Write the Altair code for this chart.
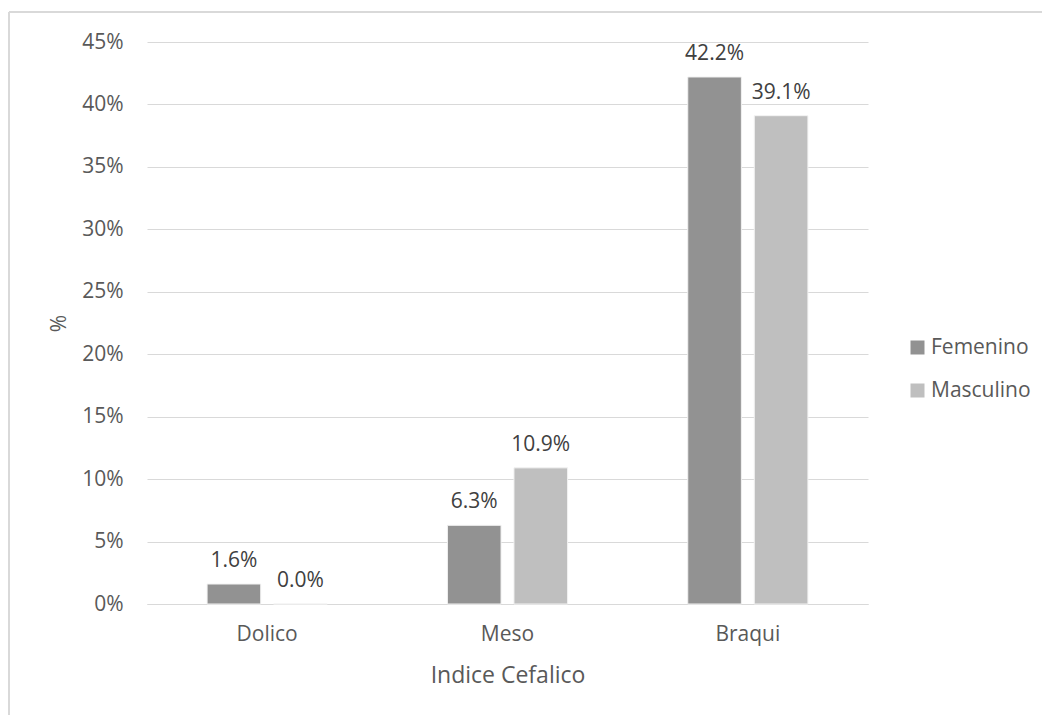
import altair as alt
import pandas as pd

# Cephalic index distribution by sex (percent of sample)
categories = ["Dolico", "Meso", "Braqui"]
series = ["Femenino", "Masculino"]
femenino = [1.6, 6.3, 42.2]
masculino = [0.0, 10.9, 39.1]
y_ticks = [0, 5, 10, 15, 20, 25, 30, 35, 40, 45]

rows = []
for cat, f, m in zip(categories, femenino, masculino):
    rows.append({"indice": cat, "sexo": "Femenino", "pct": f / 100})
    rows.append({"indice": cat, "sexo": "Masculino", "pct": m / 100})
df = pd.DataFrame(rows)

FONT = "Open Sans"
TEXT = "#595959"
GRID = "#d9d9d9"

x_enc = alt.X(
    "indice:N",
    sort=categories,
    scale=alt.Scale(paddingInner=0.5, paddingOuter=0.25),
    axis=alt.Axis(
        title="Indice Cefalico",
        labelAngle=0,
        labelFontSize=21,
        labelColor=TEXT,
        labelPadding=19,
        titleFontSize=23,
        titleFontWeight="normal",
        titleColor=TEXT,
        titlePadding=20,
        domainColor=GRID,
        ticks=False,
    ),
)
y_enc = alt.Y(
    "pct:Q",
    scale=alt.Scale(domain=[0, 0.45], nice=False),
    axis=alt.Axis(
        values=[v / 100 for v in y_ticks],
        format=".0%",
        title="%",
        labelFontSize=21,
        labelColor=TEXT,
        labelPadding=24,
        gridColor=GRID,
        gridWidth=1,
        domain=False,
        ticks=False,
        titleFontSize=21,
        titleFontWeight="normal",
        titleColor=TEXT,
        titleAngle=-90,
        titleX=-88,
        titleY=281,
        titleAlign="center",
        titleBaseline="middle",
    ),
)
x_off = alt.XOffset(
    "sexo:N", sort=series, scale=alt.Scale(paddingInner=0.194, paddingOuter=0)
)
color_enc = alt.Color(
    "sexo:N",
    sort=series,
    scale=alt.Scale(domain=series, range=["#929292", "#bfbfbf"]),
    legend=alt.Legend(
        title=None,
        orient="none",
        legendX=760,
        legendY=295,
        symbolType="square",
        symbolSize=196,
        symbolStrokeWidth=0,
        labelFontSize=21,
        labelColor=TEXT,
        labelOffset=3,
        rowPadding=21,
    ),
)

base = alt.Chart(df)

bars = base.mark_bar(stroke="#f2f2f2", strokeWidth=1).encode(
    x=x_enc, xOffset=x_off, y=y_enc, color=color_enc
)

labels = base.mark_text(
    baseline="alphabetic", dy=-17, fontSize=21, color="#404040", font=FONT
).encode(
    x=alt.X("indice:N", sort=categories),
    xOffset=alt.XOffset("sexo:N", sort=series),
    y="pct:Q",
    text=alt.Text("pct:Q", format=".1%"),
)

# Outer frame of the chart (left and top edges)
frame_left = base.mark_rule(color=GRID, strokeWidth=1.5).encode(
    x=alt.value(-138), y=alt.value(-30), y2=alt.value(700)
)
frame_top = base.mark_rule(color=GRID, strokeWidth=1.5).encode(
    x=alt.value(-138), x2=alt.value(895), y=alt.value(-30)
)

chart = (
    alt.layer(bars, labels, frame_left, frame_top)
    .properties(
        width=721,
        height=562,
        autosize=alt.AutoSizeParams(type="none"),
        padding={"left": 147, "top": 42, "right": 175, "bottom": 111},
        background="white",
    )
    .configure(font=FONT)
    .configure_view(stroke=None)
)

chart.save("out.html", embed_options={"renderer": "svg", "actions": False})
